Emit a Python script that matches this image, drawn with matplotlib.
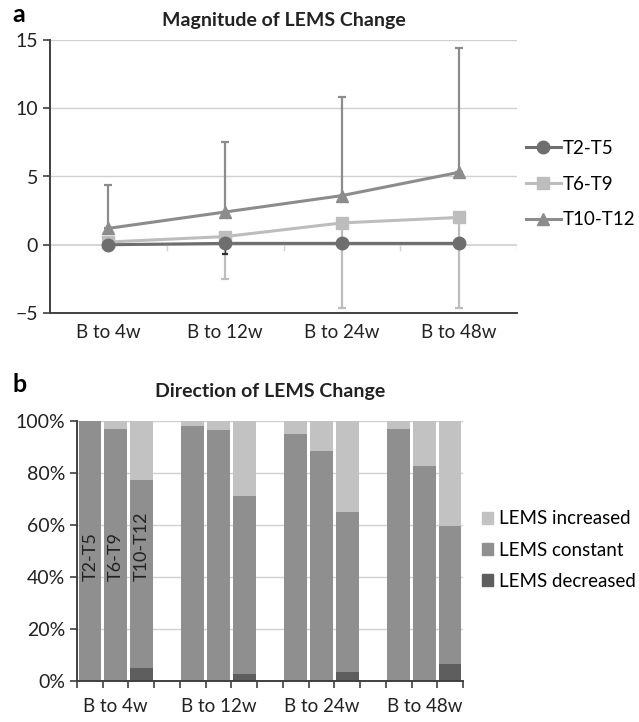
import numpy as np
import matplotlib.pyplot as plt
from matplotlib.patches import Patch
from matplotlib.lines import Line2D

plt.rcParams['font.family'] = ['Lato', 'DejaVu Sans']

# ---- panel a data ----
periods = ["B to 4w", "B to 12w", "B to 24w", "B to 48w"]
levels = ["T2-T5", "T6-T9", "T10-T12"]
mean_t2_t5 = [0.0, 0.1, 0.1, 0.1]
mean_t6_t9 = [0.2, 0.6, 1.6, 2.0]
mean_t10_t12 = [1.2, 2.4, 3.6, 5.3]
err_low_t2_t5 = [0.1, 0.8, 0.3, 0.3]
err_low_t6_t9 = [0.5, 3.1, 6.2, 6.6]
err_up_t10_t12 = [3.2, 5.1, 7.2, 9.1]

# ---- panel b data (percent of patients) ----
# rows: periods, cols: levels
pct_decreased = [[0, 0, 5.0], [0, 0, 2.7], [0, 0, 3.5], [0, 0, 6.5]]
pct_constant = [[100, 96.9, 72.3], [98.2, 96.5, 68.3], [95.0, 88.6, 61.5], [97.0, 82.8, 53.2]]
pct_increased = [[0, 3.1, 22.7], [1.8, 3.5, 29.0], [5.0, 11.4, 35.0], [3.0, 17.2, 40.3]]

c_dark = '#6e6e6e'
c_light = '#bdbdbd'
c_mid = '#8c8c8c'
grid_c = '#d0d0d0'
spine_c = '#404040'
text_c = '#222222'

fig = plt.figure(figsize=(6.39, 7.22), dpi=100)

# ---------------- panel a ----------------
ax1 = fig.add_axes([50/639, 1-313/722, 467/639, 273/722])
x = np.arange(len(periods))
ax1.set_xlim(-0.5, 3.5)
ax1.set_ylim(-5, 15)
for y in [5, 10, 15]:
    ax1.axhline(y, color=grid_c, lw=1, zorder=0)
ax1.axhline(0, color=grid_c, lw=1.2, zorder=0)
for b in np.arange(-0.5, 4.0, 1.0):
    ax1.plot([b, b], [0, -0.35], color=grid_c, lw=1, zorder=0)

ax1.errorbar(x, mean_t10_t12, yerr=[np.zeros(4), err_up_t10_t12], fmt='none',
             ecolor=c_mid, elinewidth=1.6, capsize=3, capthick=1.6, zorder=2)
ax1.errorbar(x, mean_t6_t9, yerr=[err_low_t6_t9, np.zeros(4)], fmt='none',
             ecolor=c_light, elinewidth=1.6, capsize=3, capthick=1.6, zorder=2)
ax1.errorbar(x, mean_t2_t5, yerr=[err_low_t2_t5, np.zeros(4)], fmt='none',
             ecolor='#303030', elinewidth=1.0, capsize=2, capthick=1.6, zorder=2)

ax1.plot(x, mean_t10_t12, color=c_mid, lw=2.2, marker='^', ms=9, zorder=3)
ax1.plot(x, mean_t6_t9, color=c_light, lw=2.2, marker='s', ms=9, zorder=4)
ax1.plot(x, mean_t2_t5, color=c_dark, lw=2.2, marker='o', ms=9, zorder=5)

ax1.set_yticks([-5, 0, 5, 10, 15])
ax1.set_xticks(x)
ax1.set_xticklabels(periods)
ax1.tick_params(axis='x', length=0, pad=8, labelsize=13.5, colors=text_c)
ax1.tick_params(axis='y', length=5, width=1.2, color=spine_c, labelsize=14, labelcolor=text_c)
for s in ['top', 'right']:
    ax1.spines[s].set_visible(False)
for s in ['left', 'bottom']:
    ax1.spines[s].set_color(spine_c)
    ax1.spines[s].set_linewidth(1.4)
ax1.set_title("Magnitude of LEMS Change", fontsize=14, fontweight='bold', pad=10, color=text_c)

h1 = [Line2D([], [], color=c_dark, lw=2.2, marker='o', ms=9),
      Line2D([], [], color=c_light, lw=2.2, marker='s', ms=9),
      Line2D([], [], color=c_mid, lw=2.2, marker='^', ms=9)]
fig.legend(h1, levels, loc='center left', bbox_to_anchor=(518/639, 1-184/722),
           frameon=False, fontsize=13.5, handlelength=1.9, handletextpad=0.1,
           labelspacing=1.0, borderaxespad=0)
fig.text(12/639, 1-14/722, "a", fontsize=18, fontweight='bold', va='center')

# ---------------- panel b ----------------
ax2 = fig.add_axes([77/639, 1-681/722, 386/639, 260/722])
ax2.set_xlim(-0.5, 14.5)
ax2.set_ylim(0, 100)
for y in [20, 40, 60, 80, 100]:
    ax2.axhline(y, color=grid_c, lw=1, zorder=0)

c_inc = '#c2c2c2'
c_con = '#8f8f8f'
c_dec = '#5e5e5e'
for g in range(len(periods)):
    for l in range(len(levels)):
        pos = g * 4 + l
        d = pct_decreased[g][l]
        c = pct_constant[g][l]
        i = pct_increased[g][l]
        ax2.bar(pos, d, width=0.88, color=c_dec, lw=0, zorder=2)
        ax2.bar(pos, c, bottom=d, width=0.88, color=c_con, lw=0, zorder=2)
        ax2.bar(pos, i, bottom=d + c, width=0.88, color=c_inc, lw=0, zorder=2)

for l, name in enumerate(levels):
    ax2.text(l + 0.02, 38.5, name, rotation=90, ha='center', va='bottom', fontsize=13,
             color=text_c, zorder=3)

ax2.set_yticks([0, 20, 40, 60, 80, 100])
ax2.set_yticklabels([f"{v}%" for v in [0, 20, 40, 60, 80, 100]])
ax2.set_xticks([g * 4 + 1 for g in range(len(periods))])
ax2.set_xticklabels(periods)
ax2.set_xticks(np.arange(-0.5, 15, 1.0), minor=True)
ax2.tick_params(axis='x', which='major', length=0, pad=12, labelsize=13.5, colors=text_c)
ax2.tick_params(axis='x', which='minor', length=5, width=1.2, color=spine_c)
ax2.tick_params(axis='y', length=5, width=1.2, color=spine_c, labelsize=14, labelcolor=text_c)
for s in ['top', 'right']:
    ax2.spines[s].set_visible(False)
for s in ['left', 'bottom']:
    ax2.spines[s].set_color(spine_c)
    ax2.spines[s].set_linewidth(1.4)
ax2.set_title("Direction of LEMS Change", fontsize=14, fontweight='bold', pad=17, color=text_c)

h2 = [Patch(color=c_inc), Patch(color=c_con), Patch(color=c_dec)]
fig.legend(h2, ["LEMS increased", "LEMS constant", "LEMS decreased"], loc='center left',
           bbox_to_anchor=(474/639, 1-550/722), frameon=False, fontsize=13.5,
           handlelength=0.6, handleheight=0.6, handletextpad=0.35, labelspacing=0.75,
           borderaxespad=0)
fig.text(12/639, 1-384/722, "b", fontsize=18, fontweight='bold', va='center')

fig.savefig("out.png", dpi=100)
